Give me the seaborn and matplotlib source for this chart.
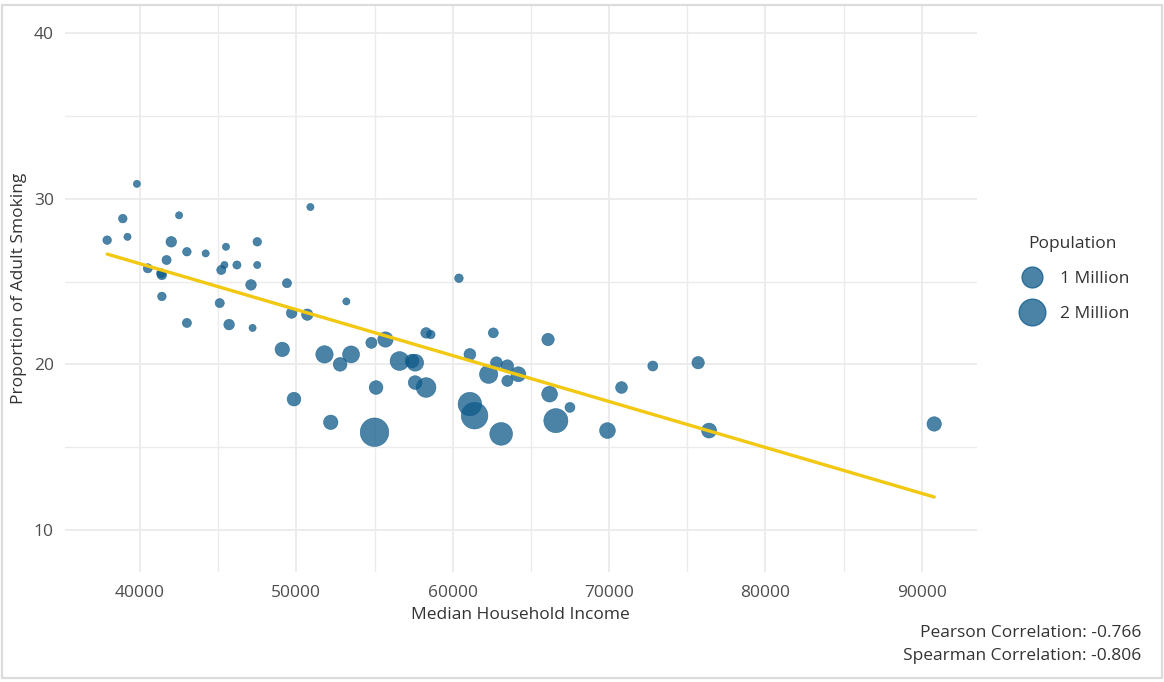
import matplotlib
matplotlib.use('Agg')
import matplotlib.pyplot as plt
from matplotlib.lines import Line2D
from matplotlib.patches import Rectangle
from matplotlib.ticker import MultipleLocator
import numpy as np
import pandas as pd
import seaborn as sns

# values
income = [37900, 38900, 39800, 39200, 42500, 42000, 43000, 44200, 45500, 47500,
          41700, 40500, 41400, 41350, 45400, 45200, 46200, 47500, 47100, 49400,
          41400, 45100, 43000, 45700, 47200, 50900, 53200, 49700, 50700, 49100,
          54800, 55700, 51800, 53500, 52800, 58300, 58600, 56600, 57400, 57600,
          57600, 58300, 55100, 49850, 52200, 55000, 61100, 62600, 62800, 63500,
          62300, 63500, 64200, 66100, 66200, 67500, 61100, 61400, 63100, 66600,
          60400, 69900, 70800, 72800, 75700, 76400, 90800]
smoking = [27.5, 28.8, 30.9, 27.7, 29.0, 27.4, 26.8, 26.7, 27.1, 27.4,
           26.3, 25.8, 25.4, 25.5, 26.0, 25.7, 26.0, 26.0, 24.8, 24.9,
           24.1, 23.7, 22.5, 22.4, 22.2, 29.5, 23.8, 23.1, 23.0, 20.9,
           21.3, 21.5, 20.6, 20.6, 20.0, 21.9, 21.8, 20.2, 20.2, 20.1,
           18.9, 18.6, 18.6, 17.9, 16.5, 15.9, 20.6, 21.9, 20.1, 19.9,
           19.4, 19.0, 19.4, 21.5, 18.2, 17.4, 17.6, 16.9, 15.8, 16.6,
           25.2, 16.0, 18.6, 19.9, 20.1, 16.0, 16.4]
# population in millions
population = [0.05, 0.05, 0.04, 0.04, 0.04, 0.10, 0.05, 0.04, 0.04, 0.05,
              0.06, 0.06, 0.07, 0.06, 0.04, 0.06, 0.045, 0.04, 0.10, 0.06,
              0.05, 0.06, 0.06, 0.10, 0.04, 0.04, 0.04, 0.10, 0.13, 0.31,
              0.12, 0.38, 0.57, 0.53, 0.26, 0.10, 0.05, 0.74, 0.26, 0.53,
              0.26, 0.84, 0.26, 0.26, 0.31, 2.39, 0.15, 0.08, 0.15, 0.18,
              0.67, 0.12, 0.35, 0.18, 0.42, 0.08, 1.41, 1.98, 1.28, 1.51,
              0.05, 0.42, 0.15, 0.08, 0.18, 0.35, 0.31]

legend_pops = [1, 2]
legend_labels = ['1 Million', '2 Million']
pearson = -0.766
spearman = -0.806

POINT_COLOR = '#0e5a8a'
LINE_COLOR = '#f2c811'
TEXT_COLOR = '#333333'
TICK_COLOR = '#4d4d4d'
GRID_COLOR = '#ebebeb'
FS = 12.5

df = pd.DataFrame({'income': income, 'smoking': smoking, 'population': population})


def marker_diameter(pop):
    # ggplot like size scale: diameter grows with sqrt of the rescaled value
    lo, hi = df['population'].min(), df['population'].max()
    t = np.clip((np.asarray(pop, dtype=float) - lo) / (hi - lo), 0, None)
    return (7.2 + 21.4 * np.sqrt(t)) * 0.72  # pixels -> points at dpi 100


sns.set_style('white')
plt.rcParams['font.family'] = ['Open Sans', 'DejaVu Sans']

fig = plt.figure(figsize=(11.64, 6.82), dpi=100)
ax = fig.add_axes([0.05584, 0.16129, 0.78325, 0.83138])

size_map = {p: float(marker_diameter(p)) ** 2 for p in df['population'].unique()}
sns.scatterplot(data=df, x='income', y='smoking', size='population', sizes=size_map,
                color=POINT_COLOR, alpha=0.75, edgecolor=POINT_COLOR, linewidth=0.4,
                legend=False, ax=ax, zorder=3)
sns.regplot(data=df, x='income', y='smoking', scatter=False, ci=None,
            color=LINE_COLOR, line_kws={'linewidth': 2.4, 'zorder': 4}, ax=ax)

ax.set_xlim(35203, 93518)
ax.set_ylim(7.46, 41.7)
ax.xaxis.set_major_locator(MultipleLocator(10000))
ax.xaxis.set_minor_locator(MultipleLocator(5000))
ax.yaxis.set_major_locator(MultipleLocator(10))
ax.yaxis.set_minor_locator(MultipleLocator(5))
ax.grid(which='major', color=GRID_COLOR, linewidth=1.3, zorder=0)
ax.grid(which='minor', color=GRID_COLOR, linewidth=1.0, zorder=0)
ax.set_axisbelow(True)
for s in ax.spines.values():
    s.set_visible(False)
ax.tick_params(which='both', length=0, labelsize=FS, labelcolor=TICK_COLOR)
ax.tick_params(axis='x', pad=9)
ax.tick_params(axis='y', pad=8)

ax.set_xlabel('Median Household Income', fontsize=FS, color=TEXT_COLOR, labelpad=5)
ax.set_ylabel('Proportion of Adult Smoking', fontsize=FS, color=TEXT_COLOR, labelpad=5)

handles = [Line2D([], [], marker='o', linestyle='', markersize=float(marker_diameter(p)),
                  markerfacecolor=POINT_COLOR, markeredgecolor=POINT_COLOR, alpha=0.75)
           for p in legend_pops]
leg = fig.legend(handles, legend_labels, title='Population', loc='center left',
                 bbox_to_anchor=(1006 / 1164, 1 - 279 / 682), frameon=False,
                 fontsize=FS, title_fontsize=FS, labelspacing=1.1,
                 handletextpad=0.6, borderpad=0)
for t in leg.get_texts():
    t.set_color(TEXT_COLOR)
leg.get_title().set_color(TEXT_COLOR)

fig.text(1141 / 1164, 1 - 633 / 682, f'Pearson Correlation: {pearson:.3f}',
         ha='right', va='center', fontsize=FS, color=TEXT_COLOR)
fig.text(1141 / 1164, 1 - 656 / 682, f'Spearman Correlation: {spearman:.3f}',
         ha='right', va='center', fontsize=FS, color=TEXT_COLOR)

fig.patches.append(Rectangle((1.5 / 1164, 4 / 682), 1160 / 1164, 673.5 / 682,
                             transform=fig.transFigure, fill=False,
                             edgecolor='#dcdcdc', linewidth=1.6))

fig.savefig('out.png', dpi=100)
